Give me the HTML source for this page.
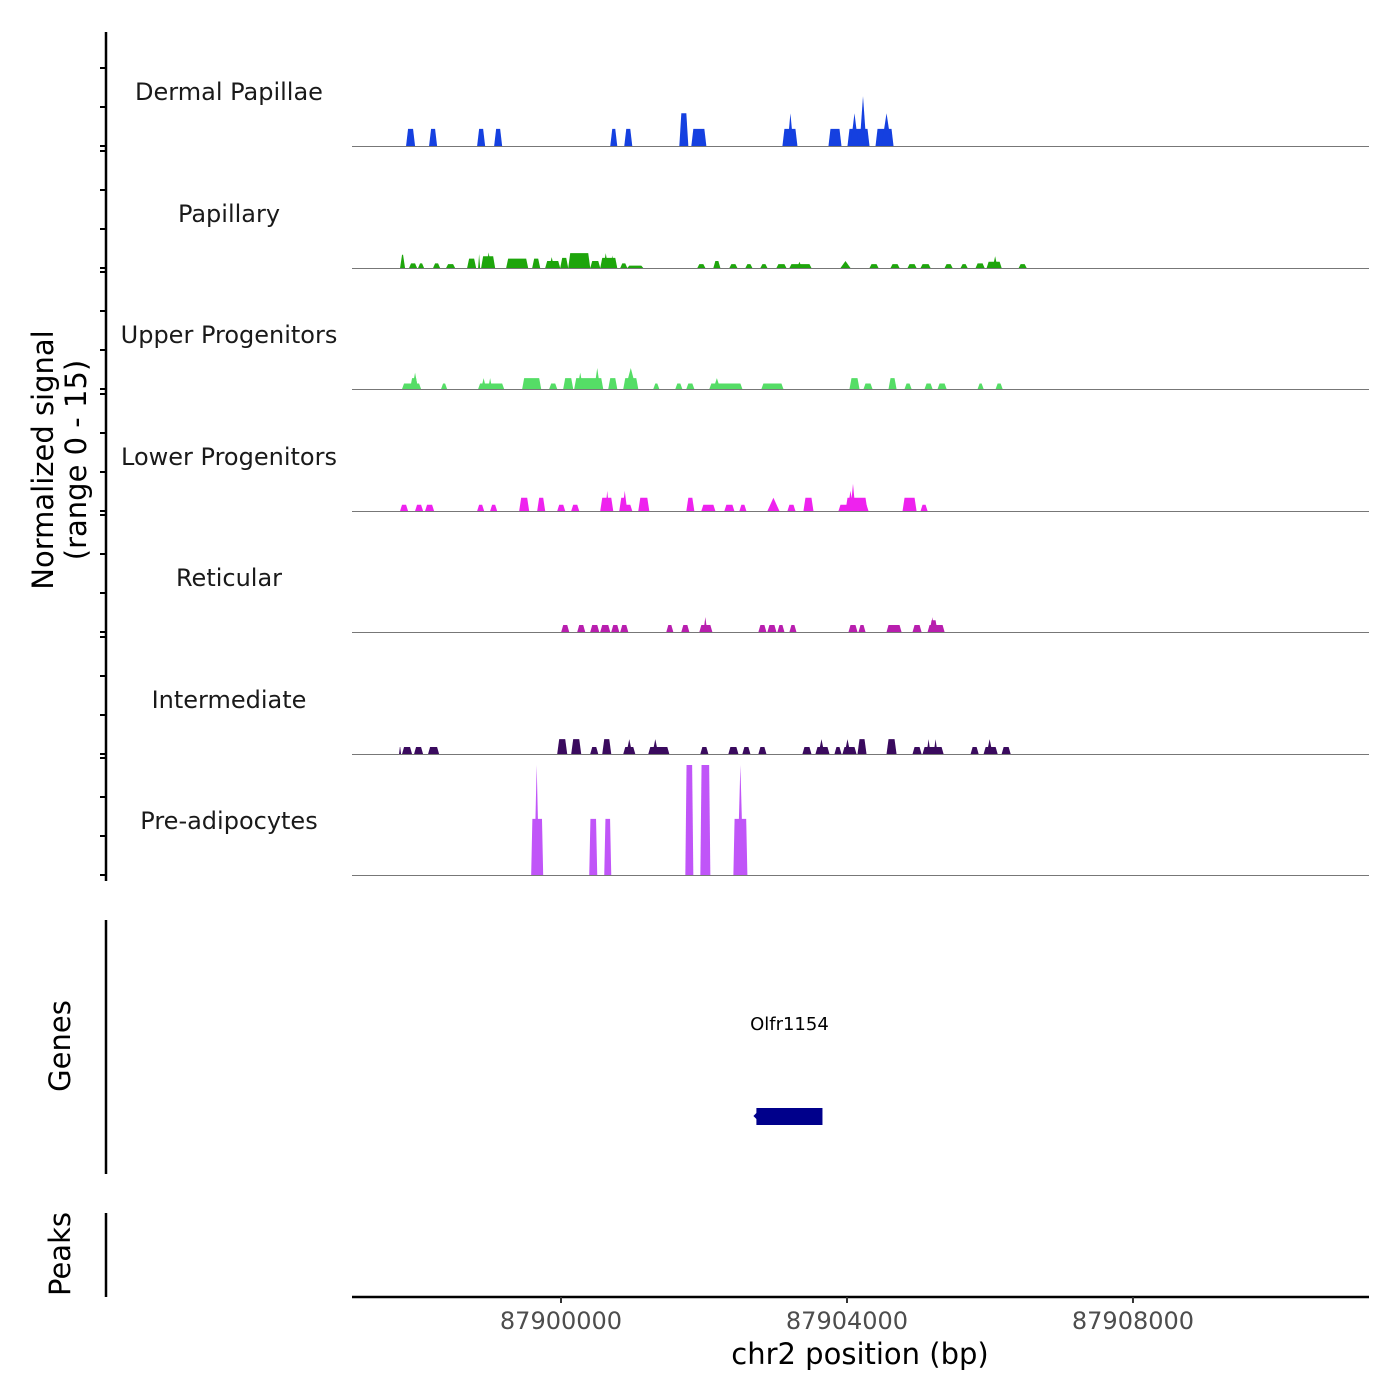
<!DOCTYPE html>
<html><head><meta charset="utf-8"><style>
body{margin:0;background:#fff}
svg{display:block;font-family:"DejaVu Sans","Liberation Sans",sans-serif}
</style></head><body>
<svg id="chart" width="1400" height="1400" viewBox="0 0 1400 1400" xmlns="http://www.w3.org/2000/svg">
<g id="tracks"></g>
<g id="yaxis"></g>
<text transform="translate(53,460) rotate(-90)" text-anchor="middle" font-size="29" fill="#000">Normalized signal</text>
<text transform="translate(86,460) rotate(-90)" text-anchor="middle" font-size="29" fill="#000">(range 0 - 15)</text>
<line x1="106" y1="920" x2="106" y2="1174" stroke="#000" stroke-width="2.5"/>
<text transform="translate(70,1046) rotate(-90)" text-anchor="middle" font-size="29" fill="#000">Genes</text>
<g id="genes"></g>
<line x1="106" y1="1213" x2="106" y2="1297" stroke="#000" stroke-width="2.5"/>
<text transform="translate(70,1254) rotate(-90)" text-anchor="middle" font-size="29" fill="#000">Peaks</text>
<g id="xaxis"></g>
<text x="860" y="1364" text-anchor="middle" font-size="29" fill="#000">chr2 position (bp)</text>
</svg>
<script>
const ORIGIN = 87897000;
const X_MIN = 87897077, X_MAX = 87911301;
const trackNames = ["Dermal Papillae","Papillary","Upper Progenitors","Lower Progenitors","Reticular","Intermediate","Pre-adipocytes"];
const trackColors = ["#1540e0","#1ea50c","#55dd66","#ee22ee","#b81eae","#3a0a5e","#c055f8"];
const xTicks = [87900000,87904000,87908000];
const yTicks = [0,5,10,15];
// peaks: [start offset bp, end offset bp, value, spike]
const dermal = [[833,959,2.2],[1155,1267,2.2],[1827,1939,2.2],[2065,2177,2.2],[3689,3787,2.2],[3885,3997,2.2],[4655,4781,4.2],[4823,5033,2.2],[6097,6307,2.2],[6167,6251,4.2,1],[6741,6923,2.2],[7007,7315,2.2],[7049,7161,4.2,1],[7175,7273,6.4,1],[7399,7651,2.2],[7483,7623,4.2,1]];
const papillary = [[749,819,1.7],[875,987,0.6],[1001,1085,0.6],[1211,1309,0.6],[1393,1519,0.5],[1687,1813,1.2],[1841,1869,1.8,1],[1883,2079,1.5],[1953,2023,2.0,1],[2233,2541,1.2],[2597,2709,1.2],[2779,2989,0.9],[2835,2905,1.4,1],[2989,3101,1.3],[3101,3409,1.9],[3409,3549,0.9],[3549,3787,1.3],[3591,3661,1.9,1],[3689,3745,1.6,1],[3829,3927,0.6],[3927,4151,0.3],[4907,5019,0.5],[5131,5229,0.9],[5355,5467,0.5],[5579,5677,0.5],[5789,5887,0.5],[6013,6153,0.5],[6195,6503,0.5],[6300,6370,0.8,1],[6909,7049,0.9,1],[7315,7441,0.5],[7609,7735,0.5],[7847,7973,0.5],[8029,8169,0.5],[8365,8477,0.5],[8589,8687,0.5],[8799,8925,0.6],[8953,9163,0.8],[9037,9107,1.5,1],[9401,9513,0.5]];
const upper = [[777,1043,0.7],[889,1001,1.4],[917,1001,2.1,1],[1323,1407,0.7],[1841,2205,0.7],[1883,1953,1.4,1],[1981,2037,1.4,1],[2457,2723,1.4],[2835,2947,0.7],[3031,3171,1.4],[3185,3591,1.4],[3227,3311,2.1,1],[3465,3549,2.7,1],[3661,3787,1.4],[3871,4081,1.4],[3899,4053,2.7,1],[4291,4375,0.7],[4599,4697,0.7],[4753,4865,0.7],[5075,5537,0.7],[5131,5229,1.4,1],[5803,6111,0.7],[7035,7175,1.4],[7231,7357,0.7],[7581,7693,1.4],[7805,7903,0.7],[8085,8197,0.7],[8267,8393,0.7],[8827,8911,0.7],[9079,9177,0.7]];
const lower = [[749,861,0.8],[959,1071,0.8],[1099,1225,0.8],[1827,1925,0.8],[2009,2107,0.8],[2415,2555,1.7],[2667,2779,1.7],[2947,3059,0.8],[3143,3255,0.8],[3549,3731,1.7],[3619,3675,2.6,1],[3815,3997,0.8],[3815,3913,1.7],[3857,3927,2.6,1],[4081,4235,1.7],[4753,4865,1.7],[4963,5159,0.8],[5285,5425,0.8],[5495,5593,0.8],[5887,6055,1.7,1],[6167,6279,0.8],[6391,6531,1.7],[6881,7301,0.8],[6979,7287,1.7],[7007,7091,2.6,1],[7049,7119,3.5,1],[7777,7973,1.7],[8029,8127,0.8]];
const reticular = [[3003,3115,0.9],[3227,3339,0.9],[3409,3535,0.9],[3549,3689,0.9],[3703,3815,0.9],[3829,3941,0.9],[4473,4571,0.9],[4683,4795,0.9],[4935,5117,0.9],[4991,5047,1.9,1],[5761,5873,0.9],[5887,6013,0.9],[6027,6125,0.9],[6195,6293,0.9],[7021,7147,0.9],[7161,7259,0.9],[7553,7763,0.9],[7917,8043,0.9],[8127,8365,0.9],[8155,8267,1.5],[8169,8225,1.9,1]];
const intermediate = [[735,763,0.9],[777,917,0.9],[945,1071,0.9],[1141,1295,0.9],[2947,3087,1.9],[3143,3283,1.9],[3409,3521,0.9],[3577,3703,1.9],[3871,4039,0.9],[3913,3997,1.9,1],[4221,4515,0.9],[4277,4361,1.9,1],[4949,5061,0.9],[5341,5481,0.9],[5537,5649,0.9],[5761,5873,0.9],[6377,6503,0.9],[6559,6755,0.9],[6601,6685,1.9,1],[6825,6923,0.9],[6937,7133,0.9],[6965,7049,1.9,1],[7147,7273,1.9],[7553,7693,1.9],[7917,8043,0.9],[8057,8351,0.9],[8113,8169,1.9,1],[8211,8267,1.9,1],[8729,8841,0.9],[8911,9107,0.9],[8953,9037,1.9,1],[9163,9289,0.9]];
const preadipo = [[2583,2751,7.2],[2625,2695,14.1,1],[3395,3507,7.2],[3605,3703,7.2],[4739,4851,14.1],[4949,5089,14.1],[5411,5607,7.2],[5467,5551,14.1,1]];
const trackData = [dermal,papillary,upper,lower,reticular,intermediate,preadipo];
const geneName = "Olfr1154";
const geneStart = 5733, geneEnd = 6657;

const NS="http://www.w3.org/2000/svg";
const PX0=352, PX1=1369;
function xs(bp){return PX0+(bp-X_MIN)/(X_MAX-X_MIN)*(PX1-PX0);}
function xo(off){return xs(ORIGIN+off);}
const baselines=[146,268,389,511,632,754,875];
const unit=117/15;
function ys(v,i){return baselines[i]-v*unit;}
function mk(tag,attrs,parent){const e=document.createElementNS(NS,tag);for(const k in attrs)e.setAttribute(k,attrs[k]);parent.appendChild(e);return e;}

const tg=document.getElementById('tracks');
trackData.forEach((peaks,i)=>{
  const g=mk('g',{},tg);
  
  
  const lab=mk('text',{x:229,y:baselines[i]-46,'text-anchor':'middle','font-size':24,fill:'#1a1a1a'},g);
  lab.textContent=trackNames[i];
  
  
  peaks.forEach(p=>{
    const x0=xo(p[0]),x1=xo(p[1]),b=baselines[i],t=ys(p[2],i);
    let s=p[3]?(x1-x0)/2:Math.min(p[2]>5?1.2:2,(x1-x0)/2.5);
    const poly=mk('polygon',{points:`${x0},${b} ${x0+s},${t} ${x1-s},${t} ${x1},${b}`,fill:trackColors[i]},g);
    
    
  });
  const bl=mk('line',{x1:PX0,x2:PX1,y1:baselines[i]+0.5,y2:baselines[i]+0.5,stroke:'#777','stroke-width':1},g);
  
  
});

const ya=document.getElementById('yaxis');
const yl=mk('line',{x1:106,x2:106,y1:32,y2:881,stroke:'#000','stroke-width':2.5},ya);


baselines.forEach((b,i)=>{yTicks.forEach(v=>{
  const y=ys(v,i); if(y<31)return;
  const t=mk('line',{x1:100,x2:106,y1:y,y2:y,stroke:'#000','stroke-width':2},ya);
  
  
});});

const gg=document.getElementById('genes');
const gx0=xo(geneStart),gx1=xo(geneEnd);
const gl=mk('text',{x:(gx0+gx1)/2,y:1030,'text-anchor':'middle','font-size':18,fill:'#000'},gg);
gl.textContent=geneName;


const gb=mk('rect',{x:gx0,y:1108,width:gx1-gx0,height:17,fill:'#00008b'},gg);


const ga=mk('polygon',{points:`${gx0-3},1116 ${gx0+1},1112 ${gx0+1},1120`,fill:'#00008b'},gg);



const xa=document.getElementById('xaxis');
const xl=mk('line',{x1:PX0,x2:PX1,y1:1297,y2:1297,stroke:'#000','stroke-width':2.5},xa);


xTicks.forEach(v=>{
  const x=xs(v);
  const t=mk('line',{x1:x,x2:x,y1:1297,y2:1303,stroke:'#333','stroke-width':2},xa);
  
  
  const l=mk('text',{x:x,y:1329,'text-anchor':'middle','font-size':24,fill:'#4d4d4d'},xa);
  l.textContent=String(v);
  
  
});
</script>
</body></html>
